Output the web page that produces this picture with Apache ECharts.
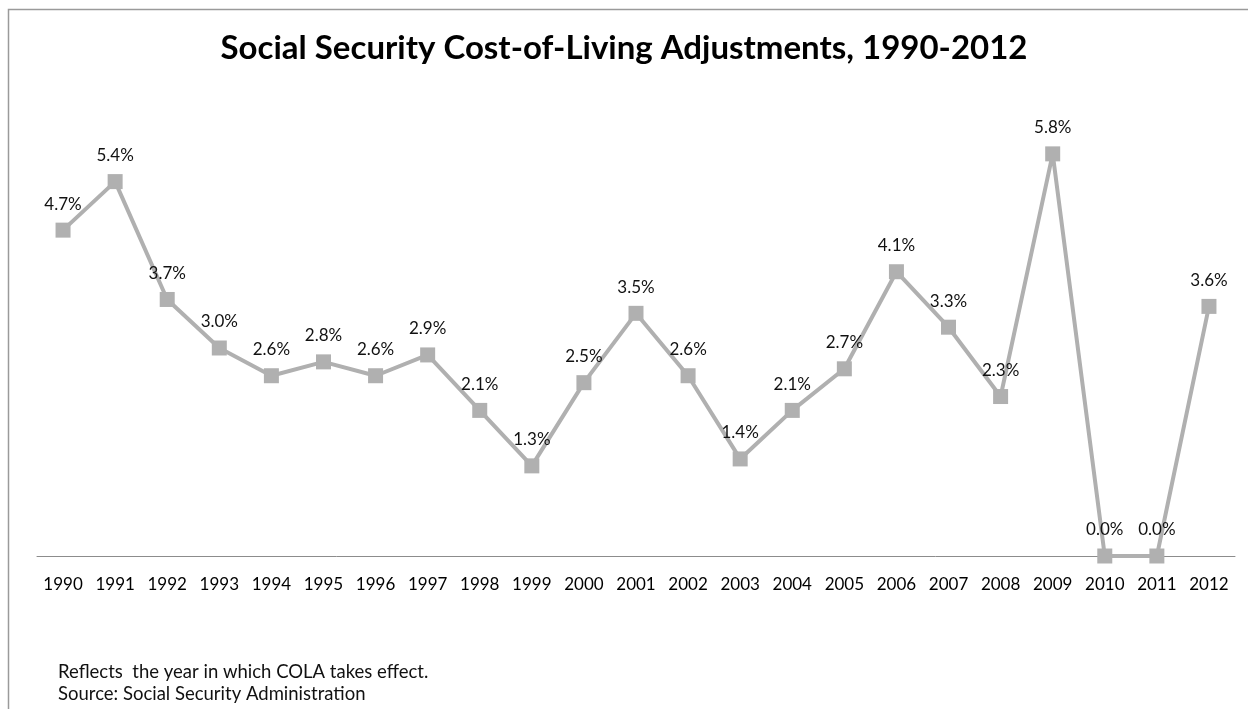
<!DOCTYPE html>
<html>
<head>
<meta charset="utf-8">
<script src="https://cdn.jsdelivr.net/npm/echarts@6/dist/echarts.min.js"></script>
<style>
  html, body { margin: 0; padding: 0; background: #fff; }
  #chart { width: 1248px; height: 709px; }
</style>
</head>
<body>
<div id="chart"></div>
<script>
// Annual COLA percentages by the year the adjustment takes effect
const years = ['1990','1991','1992','1993','1994','1995','1996','1997','1998','1999','2000',
  '2001','2002','2003','2004','2005','2006','2007','2008','2009','2010','2011','2012'];
const colaPct = [4.7, 5.4, 3.7, 3.0, 2.6, 2.8, 2.6, 2.9, 2.1, 1.3, 2.5,
  3.5, 2.6, 1.4, 2.1, 2.7, 4.1, 3.3, 2.3, 5.8, 0.0, 0.0, 3.6];
const titleText = 'Social Security Cost-of-Living Adjustments, 1990-2012';
const noteLines = ['Reflects  the year in which COLA takes effect.', 'Source: Social Security Administration'];

const FONT = 'Lato, "Open Sans", sans-serif';
const GRAY = '#b0b0b0';

const chart = echarts.init(document.getElementById('chart'));
chart.setOption({
  backgroundColor: '#fff',
  animation: false,
  title: {
    text: titleText,
    left: 'center',
    top: 27,
    textStyle: { fontFamily: FONT, fontWeight: 'bold', fontSize: 33, color: '#000' }
  },
  grid: { left: 37, right: 13, top: 140, bottom: 153 },
  xAxis: {
    type: 'category',
    data: years,
    boundaryGap: true,
    axisLine: { lineStyle: { color: '#8c8c8c', width: 1 } },
    axisTick: { show: false },
    axisLabel: { color: '#000', fontFamily: FONT, fontSize: 17, margin: 20 }
  },
  yAxis: {
    type: 'value',
    min: 0,
    max: 6,
    show: false,
    splitLine: { show: false }
  },
  series: [{
    type: 'line',
    data: colaPct,
    symbol: 'rect',
    symbolSize: 15,
    lineStyle: { color: GRAY, width: 4 },
    itemStyle: { color: GRAY },
    label: {
      show: true,
      position: 'top',
      distance: 10,
      formatter: p => p.value.toFixed(1) + '%',
      color: '#111',
      fontFamily: FONT,
      fontSize: 17
    }
  }],
  graphic: [
    {
      type: 'rect',
      shape: { x: 8.5, y: 9.5, width: 1300, height: 800 },
      style: { fill: 'none', stroke: '#9a9a9a', lineWidth: 1.5 },
      silent: true
    },
    {
      type: 'text',
      left: 58,
      top: 663,
      style: { text: noteLines[0], fontFamily: FONT, fontSize: 18.5, fill: '#111' }
    },
    {
      type: 'text',
      left: 58,
      top: 685,
      style: { text: noteLines[1], fontFamily: FONT, fontSize: 18.5, fill: '#111' }
    }
  ]
});
</script>
</body>
</html>
